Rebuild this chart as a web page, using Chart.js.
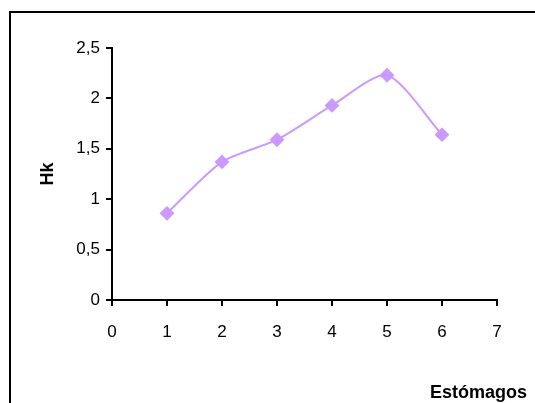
<!DOCTYPE html>
<html>
<head>
<meta charset="utf-8">
<script src="https://cdn.jsdelivr.net/npm/chart.js@4.4.1/dist/chart.umd.min.js"></script>
<style>
    body { margin: 0; background: #fff; }
    #wrap { position: relative; width: 535px; height: 403px; }
    #frame { position: absolute; left: 9px; top: 11px; right: 0; bottom: 0;
             border-left: 2px solid #000; border-top: 2px solid #000; pointer-events: none; }
</style>
</head>
<body>
<div id="wrap">
    <canvas id="chart" width="535" height="403"></canvas>
    <div id="frame"></div>
</div>
<script>
// Estómagos vs Hk
var estomagos = [1, 2, 3, 4, 5, 6];
var hk = [0.86, 1.37, 1.59, 1.93, 2.23, 1.64];
var xTitle = 'Estómagos';
var yTitle = 'Hk';

var fontFamily = "'Liberation Sans', Arial, sans-serif";

// draws the x axis title at the lower right, like the original
var xTitlePlugin = {
    id: 'xTitle',
    afterDraw: function(chart) {
        var ctx = chart.ctx;
        ctx.save();
        ctx.font = 'bold 18px ' + fontFamily;
        ctx.fillStyle = '#000';
        ctx.textAlign = 'right';
        ctx.textBaseline = 'alphabetic';
        ctx.fillText(xTitle, 527, 398);
        ctx.restore();
    }
};

var ctx = document.getElementById('chart').getContext('2d');
var chart = new Chart(ctx, {
    type: 'line',
    data: {
        datasets: [{
            data: estomagos.map(function(x, i) { return { x: x, y: hk[i] }; }),
            borderColor: '#cc99ff',
            backgroundColor: '#cc99ff',
            borderWidth: 2,
            pointStyle: 'rectRot',
            pointRadius: 6,
            pointHoverRadius: 6,
            tension: 0.25,
            fill: false
        }]
    },
    options: {
        responsive: false,
        animation: false,
        layout: { padding: { left: 0, top: 48, right: 38, bottom: 0 } },
        plugins: { legend: { display: false }, tooltip: { enabled: false } },
        scales: {
            x: {
                type: 'linear',
                min: 0,
                max: 7,
                ticks: { stepSize: 1, padding: 16, color: '#000', font: { family: fontFamily, size: 17 } },
                grid: { drawOnChartArea: false, color: '#000', lineWidth: 2, tickLength: 6 },
                border: { color: '#000', width: 2 },
                afterFit: function(scale) { scale.height = 103; }
            },
            y: {
                min: 0,
                max: 2.5,
                ticks: {
                    stepSize: 0.5,
                    padding: 6,
                    color: '#000',
                    font: { family: fontFamily, size: 17 },
                    callback: function(v) { return String(v).replace('.', ','); }
                },
                grid: { drawOnChartArea: false, color: '#000', lineWidth: 2, tickLength: 6 },
                border: { color: '#000', width: 2 },
                title: {
                    display: true,
                    text: yTitle,
                    color: '#000',
                    font: { family: fontFamily, size: 18, weight: 'bold' },
                    padding: { top: 37, bottom: 0 }
                },
                afterFit: function(scale) { scale.width = 112; }
            }
        }
    },
    plugins: [xTitlePlugin]
});
</script>
</body>
</html>
